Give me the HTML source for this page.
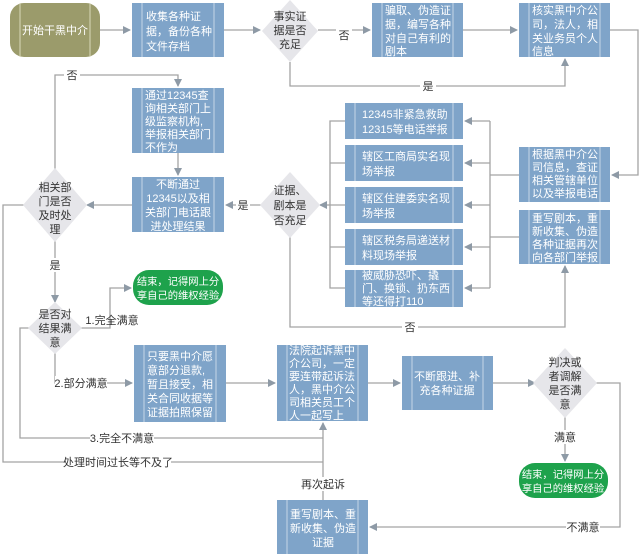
<!DOCTYPE html>
<html><head><meta charset="utf-8"><style>
html,body{margin:0;padding:0;background:#fff;}
svg{display:block;font-family:"Liberation Sans","Noto Sans CJK SC",sans-serif;}
.b{fill:#7fa4c9;}
.il{stroke:#c5d6e8;stroke-width:1;}
.w{fill:#fff;font-size:11px;}
.g{fill:#fff;font-size:10.3px;}
.d{fill:#333;font-size:11px;}
.l{stroke:#a3a3a3;stroke-width:1.3;fill:none;}
.dm{fill:#e6e6ea;}
</style></head><body>
<svg width="640" height="557" viewBox="0 0 640 557">
<defs><marker id="a" markerWidth="8" markerHeight="8" refX="7" refY="4" orient="auto" markerUnits="userSpaceOnUse"><path d="M0,0 L8,4 L0,8 z" fill="#8e9aa6"/></marker></defs>

<g class="l">
<path d="M100,30 H130" marker-end="url(#a)"/>
<path d="M224,30 H260" marker-end="url(#a)"/>
<path d="M318,30 H370" marker-end="url(#a)"/>
<path d="M463,30 H517" marker-end="url(#a)"/>
<path d="M290,62 V86 H565 V59" marker-end="url(#a)"/>
<path d="M610,30 H638 V175 H612" marker-end="url(#a)"/>
<path d="M519,175 H490 M519,237 H490 M490,121 V288"/>
<path d="M490,121 H465" marker-end="url(#a)"/>
<path d="M490,163 H465" marker-end="url(#a)"/>
<path d="M490,205 H465" marker-end="url(#a)"/>
<path d="M490,247 H465" marker-end="url(#a)"/>
<path d="M490,288 H465" marker-end="url(#a)"/>
<path d="M345,121 H330 V288 H345 M345,163 H330 M345,205 H330 M345,247 H330"/>
<path d="M330,205 H320" marker-end="url(#a)"/>
<path d="M290,235 V327 H565 V266" marker-end="url(#a)"/>
<path d="M262,205 H226" marker-end="url(#a)"/>
<path d="M132,205 H87" marker-end="url(#a)"/>
<path d="M55,170 V75 H178 V86" marker-end="url(#a)"/>
<path d="M178,153 V175" marker-end="url(#a)"/>
<path d="M55,240 V302" marker-end="url(#a)"/>
<path d="M80,328 H110 V288 H131" marker-end="url(#a)"/>
<path d="M55,352 V383 H132" marker-end="url(#a)"/>
<path d="M30,328 H20 V438 H323"/>
<path d="M25,205 H3 V462 H323"/>
<path d="M226,383 H275" marker-end="url(#a)"/>
<path d="M368,383 H400" marker-end="url(#a)"/>
<path d="M493,383 H535" marker-end="url(#a)"/>
<path d="M565,416 V461" marker-end="url(#a)"/>
<path d="M595,383 H620 V527 H370" marker-end="url(#a)"/>
<path d="M323,500 V423" marker-end="url(#a)"/>
</g>

<rect x="10" y="3" width="90" height="54" rx="14" fill="#9b9b6b"/>
<line x1="20" y1="3" x2="20" y2="57" stroke="#d8d8b8"/><line x1="90" y1="3" x2="90" y2="57" stroke="#d8d8b8"/>
<text x="55" y="34" class="w" text-anchor="middle">开始干黑中介</text>

<g>
<rect class="b" x="132" y="3" width="92" height="54"/>
<rect class="b" x="372" y="3" width="91" height="54"/>
<rect class="b" x="519" y="3" width="91" height="54"/>
<rect class="b" x="132" y="88" width="92" height="65"/>
<rect class="b" x="132" y="177" width="92" height="55"/>
<rect class="b" x="345" y="103" width="118" height="36"/>
<rect class="b" x="345" y="145" width="118" height="36"/>
<rect class="b" x="345" y="187" width="118" height="36"/>
<rect class="b" x="345" y="229" width="118" height="36"/>
<rect class="b" x="345" y="270" width="118" height="37"/>
<rect class="b" x="519" y="147" width="91" height="55"/>
<rect class="b" x="519" y="210" width="91" height="54"/>
<rect class="b" x="134" y="345" width="92" height="77"/>
<rect class="b" x="277" y="345" width="91" height="76"/>
<rect class="b" x="402" y="356" width="91" height="54"/>
<rect class="b" x="277" y="500" width="91" height="54"/>
</g>
<g class="il">
<path d="M142,3V57M214,3V57M382,3V57M453,3V57M529,3V57M600,3V57"/>
<path d="M142,88V153M214,88V153M142,177V232M214,177V232"/>
<path d="M355,103V139M453,103V139M355,145V181M453,145V181M355,187V223M453,187V223M355,229V265M453,229V265M355,270V307M453,270V307"/>
<path d="M529,147V202M600,147V202M529,210V264M600,210V264"/>
<path d="M144,345V422M216,345V422M287,345V421M358,345V421M412,356V410M483,356V410M287,500V554M358,500V554"/>
</g>

<g class="w">
<text x="146" y="20">收集各种证</text><text x="146" y="35">据，备份各种</text><text x="146" y="50">文件存档</text>
<text x="385" y="14">骗取、伪造证</text><text x="385" y="28">据，编写各种</text><text x="385" y="42">对自己有利的</text><text x="385" y="55">剧本</text>
<text x="532" y="14">核实黑中介公</text><text x="532" y="28">司，法人，相</text><text x="532" y="42">关业务员个人</text><text x="532" y="55">信息</text>
<text x="145" y="99">通过12345查</text><text x="145" y="112">询相关部门上</text><text x="145" y="125">级监察机构,</text><text x="145" y="138">举报相关部门</text><text x="145" y="151">不作为</text>
<text x="178" y="188" text-anchor="middle">不断通过</text><text x="178" y="202" text-anchor="middle">12345以及相</text><text x="178" y="216" text-anchor="middle">关部门电话跟</text><text x="178" y="230" text-anchor="middle">进处理结果</text>
<text x="362" y="118">12345非紧急救助</text><text x="362" y="133">12315等电话举报</text>
<text x="362" y="160">辖区工商局实名现</text><text x="362" y="175">场举报</text>
<text x="362" y="202">辖区住建委实名现</text><text x="362" y="217">场举报</text>
<text x="362" y="244">辖区税务局递送材</text><text x="362" y="259">料现场举报</text>
<text x="362" y="279">被威胁恐吓、撬</text><text x="362" y="292">门、换锁、扔东西</text><text x="362" y="305">等还得打110</text>
<text x="532" y="158">根据黑中介公</text><text x="532" y="171">司信息，查证</text><text x="532" y="184">相关管辖单位</text><text x="532" y="197">以及举报电话</text>
<text x="532" y="222">重写剧本，重</text><text x="532" y="235">新收集、伪造</text><text x="532" y="248">各种证据再次</text><text x="532" y="261">向各部门举报</text>
<text x="147" y="360">只要黑中介愿</text><text x="147" y="374">意部分退款,</text><text x="147" y="388">暂且接受，相</text><text x="147" y="402">关合同收据等</text><text x="147" y="416">证据拍照保留</text>
<text x="289" y="354">法院起诉黑中</text><text x="289" y="367">介公司，一定</text><text x="289" y="380">要连带起诉法</text><text x="289" y="393">人，黑中介公</text><text x="289" y="406">司相关员工个</text><text x="289" y="419">人一起写上</text>
<text x="447" y="380" text-anchor="middle">不断跟进、补</text><text x="447" y="394" text-anchor="middle">充各种证据</text>
<text x="323" y="518" text-anchor="middle">重写剧本、重</text><text x="323" y="532" text-anchor="middle">新收集、伪造</text><text x="323" y="546" text-anchor="middle">证据</text>
</g>

<polygon class="dm" points="290,0 318,31 290,62 262,31"/>
<polygon class="dm" points="290,172 320,205 290,238 260,205"/>
<polygon class="dm" points="55,168 87,205 55,242 23,205"/>
<polygon class="dm" points="55,302 82,328 55,354 28,328"/>
<polygon class="dm" points="565,348 597,383 565,418 533,383"/>
<g class="d" text-anchor="middle">
<text x="290" y="20">事实证</text><text x="290" y="34">据是否</text><text x="290" y="48">充足</text>
<text x="290" y="194">证据、</text><text x="290" y="209">剧本是</text><text x="290" y="224">否充足</text>
<text x="55" y="191">相关部</text><text x="55" y="205">门是否</text><text x="55" y="219">及时处</text><text x="55" y="233">理</text>
<text x="55" y="318">是否对</text><text x="55" y="332">结果满</text><text x="55" y="346">意</text>
<text x="565" y="366">判决或</text><text x="565" y="380">者调解</text><text x="565" y="394">是否满</text><text x="565" y="408">意</text>
</g>

<rect x="133" y="270" width="90" height="35" rx="16" fill="#1ea24c"/>
<text x="178" y="285" class="g" text-anchor="middle">结束，记得网上分</text><text x="178" y="299" class="g" text-anchor="middle">享自己的维权经验</text>
<rect x="519" y="463" width="89" height="35" rx="16" fill="#1ea24c"/>
<text x="563" y="478" class="g" text-anchor="middle">结束，记得网上分</text><text x="563" y="492" class="g" text-anchor="middle">享自己的维权经验</text>

<g class="d" text-anchor="middle">
<rect x="336" y="28" width="16" height="14" fill="#fff"/><text x="344" y="39">否</text>
<rect x="420" y="79" width="16" height="14" fill="#fff"/><text x="428" y="90">是</text>
<rect x="64" y="68" width="16" height="14" fill="#fff"/><text x="72" y="79">否</text>
<rect x="236" y="198" width="14" height="14" fill="#fff"/><text x="243" y="209">是</text>
<rect x="47" y="258" width="16" height="14" fill="#fff"/><text x="55" y="269">是</text>
<rect x="402" y="320" width="16" height="14" fill="#fff"/><text x="410" y="331">否</text>
<text x="112" y="324">1.完全满意</text>
<rect x="55" y="376" width="52" height="14" fill="#fff"/><text x="81" y="387">2.部分满意</text>
<rect x="90" y="431" width="64" height="14" fill="#fff"/><text x="122" y="442">3.完全不满意</text>
<rect x="65" y="455" width="106" height="14" fill="#fff"/><text x="118" y="466">处理时间过长等不及了</text>
<rect x="300" y="477" width="46" height="14" fill="#fff"/><text x="323" y="488">再次起诉</text>
<rect x="553" y="430" width="24" height="14" fill="#fff"/><text x="565" y="441">满意</text>
<rect x="566" y="520" width="34" height="14" fill="#fff"/><text x="583" y="531">不满意</text>
</g>
</svg>
</body></html>
